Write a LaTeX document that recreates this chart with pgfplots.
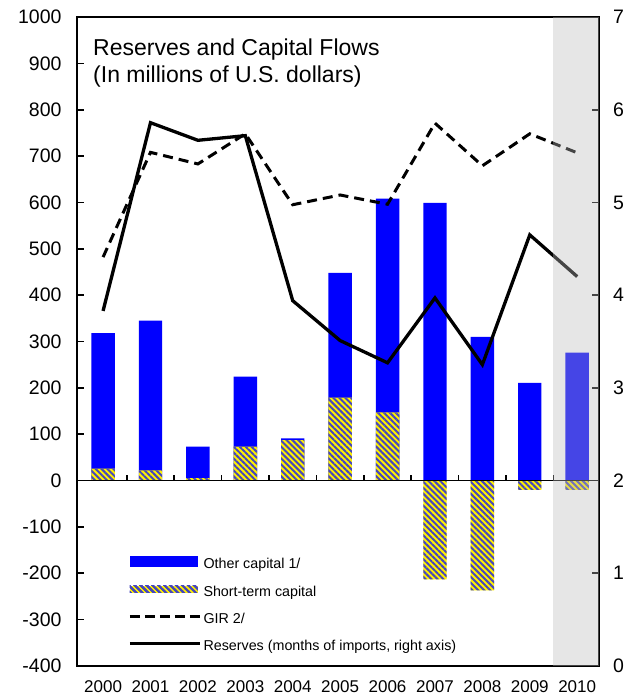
\documentclass[border=0pt]{standalone}
\usepackage{pgfplots}
\pgfplotsset{compat=1.18}
\usepackage{pgfplotstable}
\usepackage{fontspec}
\setmainfont{Liberation Sans}
\usetikzlibrary{patterns.meta}

\definecolor{stripe}{RGB}{70,70,190}
\definecolor{shadegray}{RGB}{189,189,189}

\pgfplotstableread{
x  top  st    gir  res
0  318  26    482  3.83
1  345  22    708  5.86
2  73   5     683  5.67
3  224  73    748  5.72
4  91   87    595  3.94
5  448  179   616  3.51
6  608  147   596  3.27
7  599  -213  771  3.97
8  310  -237  679  3.25
9  211  -20   748  4.65
10 276  -20   707  4.20
}\data

\begin{document}
\begin{tikzpicture}
\fill[white] (-77pt,-34pt) rectangle (558pt,666pt);
\begin{axis}[
  at={(0,0)}, anchor=south west,
  scale only axis, width=522pt, height=649pt,
  xmin=-0.55, xmax=10.46, ymin=-400, ymax=1000,
  ytick={-400,-300,-200,-100,0,100,200,300,400,500,600,700,800,900,1000},
  yticklabels={-400,-300,-200,-100,0,100,200,300,400,500,600,700,800,900,1000},
  xtick={0,1,2,3,4,5,6,7,8,9,10},
  xticklabels={2000,2001,2002,2003,2004,2005,2006,2007,2008,2009,2010},
  ytick pos=left,
  xtick pos=bottom,
  x tick style={draw=none},
  major tick length=7pt,
  y tick style={line width=1.6pt, black},
  axis line style={line width=1.8pt, black},
  yticklabel style={font=\fontsize{19.5}{20}\selectfont, xshift=-12pt},
  xticklabel style={font=\fontsize{17}{18}\selectfont, yshift=-11pt},
  legend cell align=left,
  legend style={at={(0.0977,0.1695)}, anchor=north west, draw=none, fill=none,
    inner sep=0pt, row sep=14pt, column sep=2pt,
    font=\fontsize{14.3}{15}\selectfont,
    nodes={inner sep=0pt, text height=10pt, text depth=3pt}},
]
\addplot[ybar, bar width=23.4pt, bar shift=0pt, fill=blue, draw=none,
  legend image code/.code={\fill[blue] (0pt,-1.5pt) rectangle (68pt,9pt);}]
  table[x=x, y=top]{\data};
\addlegendentry{Other capital 1/}
\addplot[ybar, bar width=23.4pt, bar shift=0pt, fill=yellow, draw=none,
  postaction={pattern={Lines[angle=-45,distance=4.2pt,line width=2pt]}, pattern color=stripe},
  legend image code/.code={\fill[yellow] (0pt,0pt) rectangle (68pt,7pt);
     \fill[pattern={Lines[angle=-45,distance=4.2pt,line width=2pt]}, pattern color=stripe] (0pt,0pt) rectangle (68pt,7pt);}]
  table[x=x, y=st]{\data};
\addlegendentry{Short-term capital}
\addplot[black, line width=3pt, dash pattern=on 10pt off 6pt, no marks,
  legend image code/.code={\draw[black, line width=3pt, dash pattern=on 10pt off 5pt] (0pt,3.5pt) -- (70pt,3.5pt);}]
  table[x=x, y=gir]{\data};
\addlegendentry{GIR 2/}
\addlegendimage{legend image code/.code={\draw[black, line width=3.3pt] (0pt,3.5pt) -- (70pt,3.5pt);}}
\addlegendentry{Reserves (months of imports, right axis)}

\draw[line width=1.8pt] (axis cs:-0.55,0) -- (axis cs:10.46,0);
\pgfplotsinvokeforeach{0.5,1.5,2.5,3.5,4.5,5.5,6.5,7.5,8.5,9.5}{
  \draw[line width=1.6pt] (axis cs:#1,0) -- ++(0pt,6pt);
}
\node[anchor=base west, inner sep=0pt, font=\fontsize{23}{27}\selectfont] at (rel axis cs:0.0307,0.9414) {Reserves and Capital Flows};
\node[anchor=base west, inner sep=0pt, font=\fontsize{23}{27}\selectfont] at (rel axis cs:0.0307,0.8998) {(In millions of U.S. dollars)};
\end{axis}

\begin{axis}[
  at={(0,0)}, anchor=south west,
  scale only axis, width=522pt, height=649pt,
  xmin=-0.55, xmax=10.46, ymin=0, ymax=7,
  axis y line*=right, axis x line=none,
  ytick={0,1,2,3,4,5,6,7},
  yticklabels={0,1,2,3,4,5,6,7},
  major tick length=7pt,
  y tick style={line width=1.6pt, black},
  axis line style={line width=1.8pt, black},
  yticklabel style={font=\fontsize{19.5}{20}\selectfont, xshift=10.5pt},
]
\addplot[black, line width=3.3pt, no marks] table[x=x, y=res]{\data};
\fill[shadegray, fill opacity=0.37, draw=none] (axis cs:9.5,0) rectangle (axis cs:10.46,7);
\end{axis}
\pgfresetboundingbox
\path (-77pt,-34pt) rectangle (558pt,666pt);
\end{tikzpicture}
\end{document}
